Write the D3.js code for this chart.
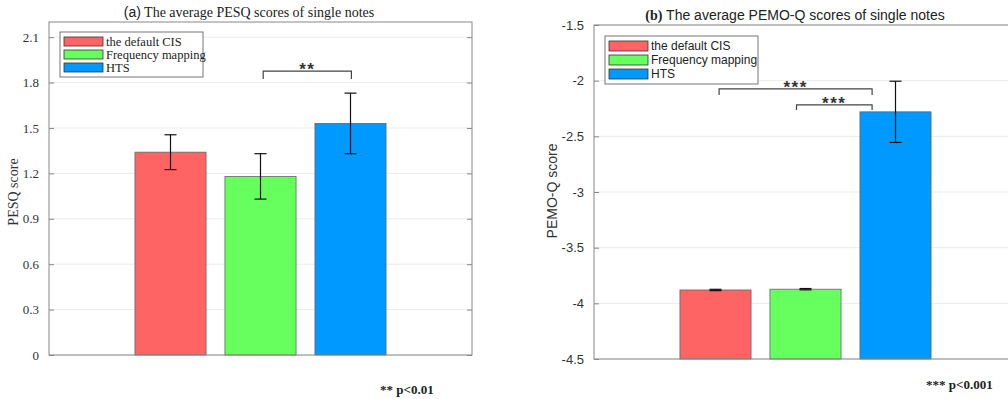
<!DOCTYPE html>
<html>
<head>
<meta charset="utf-8">
<script src="https://cdn.jsdelivr.net/npm/d3@7"></script>
<style>
body { margin: 0; background: #fff; }
svg { display: block; }
</style>
</head>
<body>
<svg width="1008" height="399"></svg>
<script>
// series shared by both panels
let seriesNames = ["the default CIS", "Frequency mapping", "HTS"];
let seriesColors = ["#ff6464", "#66ff5e", "#0099ff"];

// panel (a) PESQ
let pesqMeans = [1.34, 1.18, 1.53];
let pesqErr = [0.115, 0.15, 0.2];
let pesqTicks = [0, 0.3, 0.6, 0.9, 1.2, 1.5, 1.8, 2.1];
// brackets: x in bar-index units
let pesqBrackets = [{x0: 1.03, x1: 2.01, y: 1.876, leg: 1.823, label: "**"}];

// panel (b) PEMO-Q
let pemoMeans = [-3.88, -3.873, -2.28];
let pemoErr = [0.006, 0.006, 0.275];
let pemoTicks = [-4.5, -4, -3.5, -3, -2.5, -2, -1.5];
let pemoBrackets = [
  {x0: 0.04, x1: 1.74, y: -2.074, leg: -2.128, label: "***"},
  {x0: 0.9, x1: 1.74, y: -2.218, leg: -2.263, label: "***"}
];

let svg = d3.select("svg");

function drawPanel(opt) {
  let g = svg.append("g");
  let box = opt.box;

  let y = d3.scaleLinear().domain(opt.domain).range([box.bottom, box.top]);
  let x = d3.scaleBand()
    .domain(seriesNames)
    .range([box.left, box.right])
    .paddingInner(0.21)
    .paddingOuter(0.955);
  let step = x.step();
  let xi = function(v) { return x(seriesNames[0]) + x.bandwidth() / 2 + v * step; };

  //grid
  g.append("g").selectAll("line")
    .data(opt.ticks)
    .enter().append("line")
      .attr("x1", box.left).attr("x2", box.right)
      .attr("y1", function(d) { return y(d); })
      .attr("y2", function(d) { return y(d); })
      .attr("stroke", "#ebebeb");

  //bars
  g.append("g").selectAll("rect")
    .data(opt.means)
    .enter().append("rect")
      .attr("x", function(d, i) { return x(seriesNames[i]); })
      .attr("width", x.bandwidth())
      .attr("y", function(d) { return y(d); })
      .attr("height", function(d) { return y(opt.domain[0]) - y(d); })
      .attr("fill", function(d, i) { return seriesColors[i]; })
      .attr("stroke", "#666")
      .attr("stroke-width", 0.8);

  //error bars
  let eb = g.append("g").attr("stroke", "#111").attr("stroke-width", 1.2);
  opt.means.forEach(function(m, i) {
    let cx = x(seriesNames[i]) + x.bandwidth() / 2;
    let e = opt.err[i];
    eb.append("line").attr("x1", cx).attr("x2", cx).attr("y1", y(m - e)).attr("y2", y(m + e));
    eb.append("line").attr("x1", cx - 6).attr("x2", cx + 6).attr("y1", y(m - e)).attr("y2", y(m - e));
    eb.append("line").attr("x1", cx - 6).attr("x2", cx + 6).attr("y1", y(m + e)).attr("y2", y(m + e));
  });

  //axes box
  g.append("g")
    .attr("transform", "translate(" + box.left + ",0)")
    .call(d3.axisLeft(y).tickValues(opt.ticks).tickSize(-5).tickPadding(10).tickFormat(opt.fmt))
    .call(function(a) {
      a.select(".domain").remove();
      a.selectAll("line").attr("stroke", "#888");
      a.selectAll("text").attr("font-family", opt.font).attr("font-size", 13).attr("fill", "#333");
    });
  g.append("g")
    .attr("transform", "translate(" + box.right + ",0)")
    .call(d3.axisRight(y).tickValues(opt.ticks).tickSize(-5).tickFormat(""))
    .call(function(a) {
      a.select(".domain").remove();
      a.selectAll("line").attr("stroke", "#888");
    });
  g.append("rect")
    .attr("x", box.left).attr("y", box.top)
    .attr("width", box.right - box.left).attr("height", box.bottom - box.top)
    .attr("fill", "none").attr("stroke", "#888").attr("stroke-width", 1);

  //significance brackets
  opt.brackets.forEach(function(b) {
    let x0 = xi(b.x0), x1 = xi(b.x1);
    g.append("path")
      .attr("d", "M" + x0 + "," + y(b.leg) + "V" + y(b.y) + "H" + x1 + "V" + y(b.leg))
      .attr("fill", "none").attr("stroke", "#444").attr("stroke-width", 1.2);
    g.append("text")
      .attr("x", (x0 + x1) / 2).attr("y", y(b.y) + 4)
      .attr("text-anchor", "middle")
      .attr("font-family", "Liberation Sans, sans-serif")
      .attr("font-size", 17).attr("font-weight", "bold").attr("fill", "#333")
      .attr("letter-spacing", 1.5)
      .text(b.label);
  });

  //legend
  let lg = g.append("g");
  lg.append("rect")
    .attr("x", opt.legend.x).attr("y", opt.legend.y)
    .attr("width", opt.legend.w).attr("height", opt.legend.h)
    .attr("fill", "#fff").attr("stroke", "#777");
  let rowH = (opt.legend.h - 6) / 3;
  let row = lg.selectAll("g.row")
    .data(seriesNames)
    .enter().append("g")
      .attr("class", "row")
      .attr("transform", function(d, i) { return "translate(" + (opt.legend.x + 4) + "," + (opt.legend.y + 3 + i * rowH) + ")"; });
  row.append("rect")
    .attr("x", 0).attr("y", 2).attr("width", 39).attr("height", rowH - 4)
    .attr("fill", function(d, i) { return seriesColors[i]; })
    .attr("stroke", "#333").attr("stroke-width", 0.8);
  row.append("text")
    .attr("x", 42).attr("y", rowH / 2).attr("dy", "0.35em")
    .attr("font-family", opt.font).attr("font-size", opt.legend.fs).attr("fill", "#222")
    .text(function(d) { return d; });

  //y label
  g.append("text")
    .attr("transform", "translate(" + opt.ylab.x + "," + opt.ylab.y + ") rotate(-90)")
    .attr("text-anchor", "middle")
    .attr("font-family", opt.font).attr("font-size", 14).attr("fill", "#333")
    .text(opt.ylab.text);

  //title
  let t = g.append("text")
    .attr("x", opt.title.x).attr("y", opt.title.y)
    .attr("text-anchor", "middle")
    .attr("font-size", 14).attr("fill", "#222");
  t.append("tspan").attr("font-family", opt.title.pfont).attr("font-weight", opt.title.pweight).text(opt.title.prefix);
  t.append("tspan").attr("font-family", opt.font).text(" " + opt.title.text);

  //p note
  g.append("text")
    .attr("x", opt.note.x).attr("y", opt.note.y)
    .attr("font-family", "Liberation Serif, serif").attr("font-weight", "bold")
    .attr("font-size", 13).attr("fill", "#222")
    .text(opt.note.text);
}

drawPanel({
  box: {left: 49, right: 472, top: 22, bottom: 355},
  domain: [0, 2.2],
  ticks: pesqTicks,
  fmt: function(d) { return d === 0 ? "0" : d3.format(".1f")(d); },
  means: pesqMeans, err: pesqErr,
  brackets: pesqBrackets,
  font: "Liberation Serif, serif",
  legend: {x: 60, y: 32, w: 143, h: 45, fs: 12.5},
  ylab: {x: 18, y: 192, text: "PESQ score"},
  title: {x: 249, y: 17, prefix: "(a)", pfont: "Liberation Sans, sans-serif", pweight: "normal", text: "The average PESQ scores of single notes"},
  note: {x: 380, y: 394, text: "** p<0.01"}
});

drawPanel({
  box: {left: 594, right: 1017, top: 25, bottom: 359},
  domain: [-4.5, -1.5],
  ticks: pemoTicks,
  fmt: function(d) { return d3.format("")(d).replace("−", "-"); },
  means: pemoMeans, err: pemoErr,
  brackets: pemoBrackets,
  font: "Liberation Sans, sans-serif",
  legend: {x: 605, y: 36, w: 153, h: 48, fs: 12},
  ylab: {x: 557, y: 191, text: "PEMO-Q score"},
  title: {x: 795, y: 20, prefix: "(b)", pfont: "Liberation Serif, serif", pweight: "bold", text: "The average PEMO-Q scores of single notes"},
  note: {x: 926, y: 389, text: "***  p<0.001"}
});
</script>
</body>
</html>
